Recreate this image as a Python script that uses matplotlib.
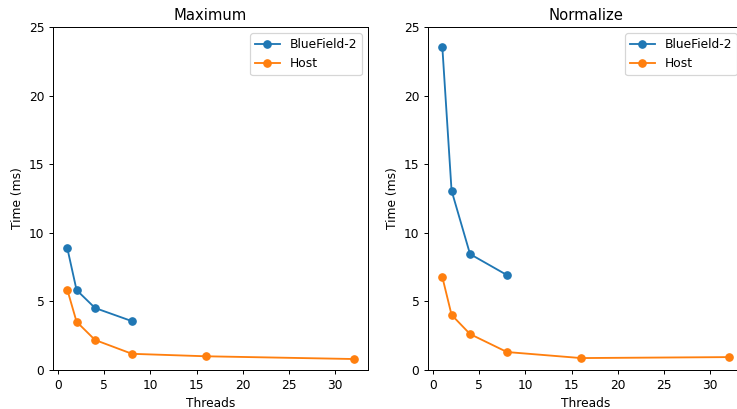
import matplotlib
matplotlib.use("Agg")
import matplotlib.pyplot as plt

threads_bf = [1, 2, 4, 8]
threads_host = [1, 2, 4, 8, 16, 32]
max_bf = [8.88, 5.83, 4.52, 3.56]
max_host = [5.85, 3.52, 2.19, 1.18, 1.0, 0.8]
norm_bf = [23.55, 13.08, 8.45, 6.92]
norm_host = [6.78, 4.02, 2.62, 1.31, 0.87, 0.94]
titles = ["Maximum", "Normalize"]

W, H = 737, 409
dpi = 88.5
fig, axes = plt.subplots(1, 2, figsize=(W / dpi, H / dpi), dpi=dpi)
for ax, title, bf, host in zip(axes, titles, [max_bf, norm_bf], [max_host, norm_host]):
    ax.plot(threads_bf, bf, marker="o", label="BlueField-2")
    ax.plot(threads_host, host, marker="o", label="Host")
    ax.set_ylim(0, 25)
    ax.set_title(title)
    ax.set_xlabel("Threads")
    ax.set_ylabel("Time (ms)")
    ax.legend(loc="upper right")
axes[0].set_position([53 / W, 1 - 370 / H, (368 - 53) / W, 343 / H])
axes[1].set_position([428 / W, 1 - 370 / H, (743 - 428) / W, 343 / H])
fig.savefig("out.png", dpi=dpi)
